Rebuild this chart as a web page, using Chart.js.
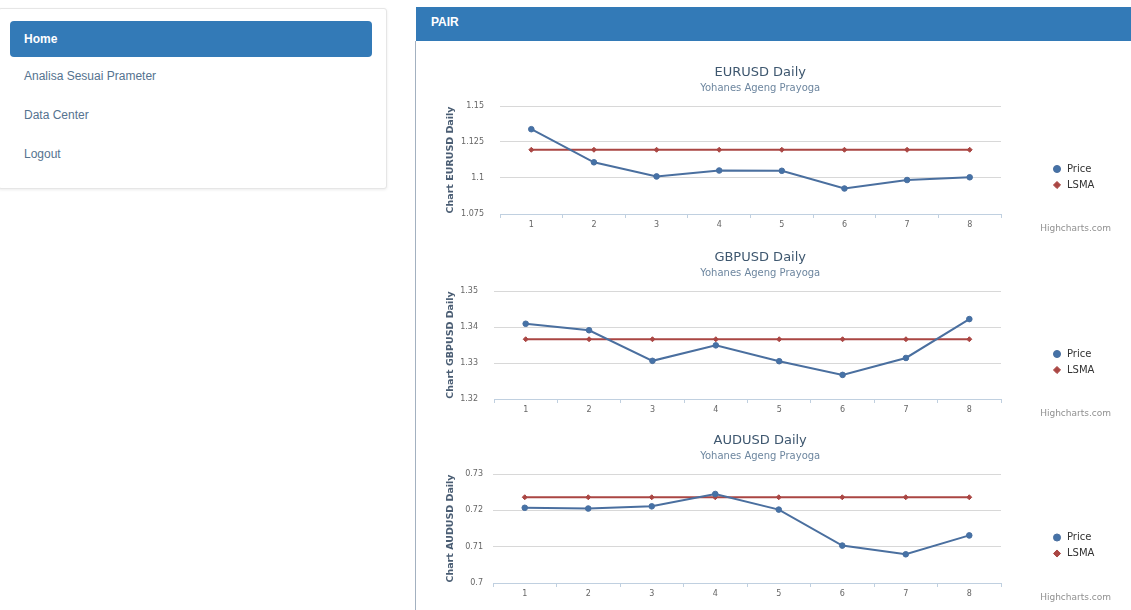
<!DOCTYPE html>
<html>
<head>
<meta charset="utf-8">
<title>PAIR</title>
<script src="https://cdn.jsdelivr.net/npm/chart.js@4.4.1/dist/chart.umd.min.js"></script>
<style>
  body { margin: 0; background: #fff; font-family: "Liberation Sans", Arial, sans-serif; }
  .side {
    position: absolute; left: -2px; top: 8px; width: 387px; height: 179px;
    background: #fff; border: 1px solid #e6e6e6; border-radius: 3px;
    box-shadow: 0 1px 3px rgba(0,0,0,0.08);
  }
  .home {
    position: absolute; left: 10px; top: 21px; width: 362px; height: 36px;
    background: #337ab7; border-radius: 4px; color: #fff; font-weight: bold;
    font-size: 12px; line-height: 36px; text-indent: 14px;
  }
  .link { position: absolute; left: 24px; font-size: 12px; color: #55738f; }
  .head {
    position: absolute; left: 416px; top: 7px; width: 715px; height: 34px;
    background: #337ab7; color: #fff; font-weight: bold; font-size: 12px;
    line-height: 31px; text-indent: 15px;
  }
  .edge { position: absolute; left: 415px; top: 41px; width: 1px; height: 569px; background: #a3b1c0; }
  canvas { position: absolute; left: 416px; }
</style>
</head>
<body>
<div class="side"></div>
<div class="home">Home</div>
<div class="link" style="top:69px">Analisa Sesuai Prameter</div>
<div class="link" style="top:108px">Data Center</div>
<div class="link" style="top:147px">Logout</div>

<div class="head">PAIR</div>
<div class="edge"></div>

<canvas id="eurusd" width="715" height="186" style="top:50px"></canvas>
<canvas id="gbpusd" width="715" height="186" style="top:235px"></canvas>
<canvas id="audusd" width="715" height="192" style="top:418px"></canvas>

<script>
const days = ['1', '2', '3', '4', '5', '6', '7', '8'];

const eurPrice = [1.1339, 1.1109, 1.1011, 1.1052, 1.1050, 1.0927, 1.0986, 1.1005];
const eurLsma = [1.1196, 1.1196, 1.1196, 1.1196, 1.1196, 1.1196, 1.1196, 1.1196];
const eurTicks = [1.075, 1.1, 1.125, 1.15];

const gbpPrice = [1.3409, 1.3391, 1.3306, 1.3349, 1.3305, 1.3267, 1.3314, 1.3422];
const gbpLsma = [1.3366, 1.3366, 1.3366, 1.3366, 1.3366, 1.3366, 1.3366, 1.3366];
const gbpTicks = [1.32, 1.33, 1.34, 1.35];

const audPrice = [0.7207, 0.7205, 0.7211, 0.7245, 0.7202, 0.7103, 0.7079, 0.7131];
const audLsma = [0.7236, 0.7236, 0.7236, 0.7236, 0.7236, 0.7236, 0.7236, 0.7236];
const audTicks = [0.7, 0.71, 0.72, 0.73];

Chart.defaults.font.family = '"DejaVu Sans", Verdana, sans-serif';
Chart.defaults.color = '#666';

// little "Highcharts.com" credit under the legend
const credit = {
  id: 'credit',
  afterDraw(chart) {
    const { ctx, chartArea } = chart;
    ctx.save();
    ctx.font = '9px "DejaVu Sans", sans-serif';
    ctx.fillStyle = '#909090';
    ctx.textAlign = 'right';
    ctx.textBaseline = 'middle';
    ctx.fillText('Highcharts.com', chartArea.right + 110, chartArea.bottom + 15);
    ctx.restore();
  }
};

function buatGrafik(id, judul, price, lsma, ticks, axisWidth, tickPad, padBottom) {
  const ctx = document.getElementById(id);
  return new Chart(ctx, {
    type: 'line',
    data: {
      labels: days,
      datasets: [{
        label: 'Price',
        data: price,
        borderColor: '#4a6f9f',
        backgroundColor: '#4572A7',
        borderWidth: 2,
        pointStyle: 'circle',
        pointRadius: 2.8,
        pointBorderWidth: 1,
        tension: 0
      }, {
        label: 'LSMA',
        data: lsma,
        borderColor: '#AA4643',
        backgroundColor: '#AA4643',
        borderWidth: 2,
        pointStyle: 'rectRot',
        pointRadius: 2.5,
        pointBorderWidth: 1,
        tension: 0
      }]
    },
    options: {
      responsive: false,
      animation: false,
      layout: { padding: { top: 15.2, left: 0, right: 26.6, bottom: padBottom } },
      plugins: {
        title: {
          display: true,
          text: judul + ' Daily',
          color: '#3E576F',
          font: { size: 13, weight: 'normal' },
          padding: { top: 0, bottom: 0 }
        },
        subtitle: {
          display: true,
          text: 'Yohanes Ageng Prayoga',
          color: '#6D869F',
          font: { size: 10 },
          padding: { top: 1.2, bottom: 12 }
        },
        legend: {
          position: 'right',
          align: 'center',
          fullSize: false,
          title: { display: true, text: '', font: { size: 10 }, padding: { top: 0, bottom: 22 } },
          labels: {
            usePointStyle: true,
            boxHeight: 5,
            padding: 6,
            color: '#333',
            font: { size: 10 }
          }
        },
        tooltip: { enabled: false }
      },
      scales: {
        x: {
          offset: true,
          ticks: { color: '#666', font: { size: 8 }, padding: 2, maxRotation: 0 },
          grid: { offset: true, drawOnChartArea: false, drawTicks: true, tickLength: 4, color: '#C0D0E0' },
          border: { display: true, color: '#C0D0E0' }
        },
        y: {
          min: ticks[0],
          max: ticks[ticks.length - 1],
          afterBuildTicks: s => { s.ticks = ticks.map(v => ({ value: v })); },
          afterFit: s => { s.width = axisWidth; },
          ticks: { color: '#666', font: { size: 8 }, padding: tickPad, callback: v => String(v) },
          grid: { color: '#D8D8D8', drawTicks: false },
          border: { display: false },
          title: {
            display: true,
            text: 'Chart ' + judul + ' Daily',
            color: '#4a5d73',
            font: { size: 9.5, weight: 'bold' },
            padding: { top: 29, bottom: 0 }
          }
        },
        y2: {
          type: 'linear',
          position: 'right',
          ticks: { display: false },
          grid: { display: false },
          border: { display: false },
          afterFit: s => { s.width = 45; }
        }
      }
    },
    plugins: [credit]
  });
}

buatGrafik('eurusd', 'EURUSD', eurPrice, eurLsma, eurTicks, 84, 16, 4.4);
buatGrafik('gbpusd', 'GBPUSD', gbpPrice, gbpLsma, gbpTicks, 78, 16, 4.4);
buatGrafik('audusd', 'AUDUSD', audPrice, audLsma, audTicks, 77, 10, 9.4);
</script>
</body>
</html>
